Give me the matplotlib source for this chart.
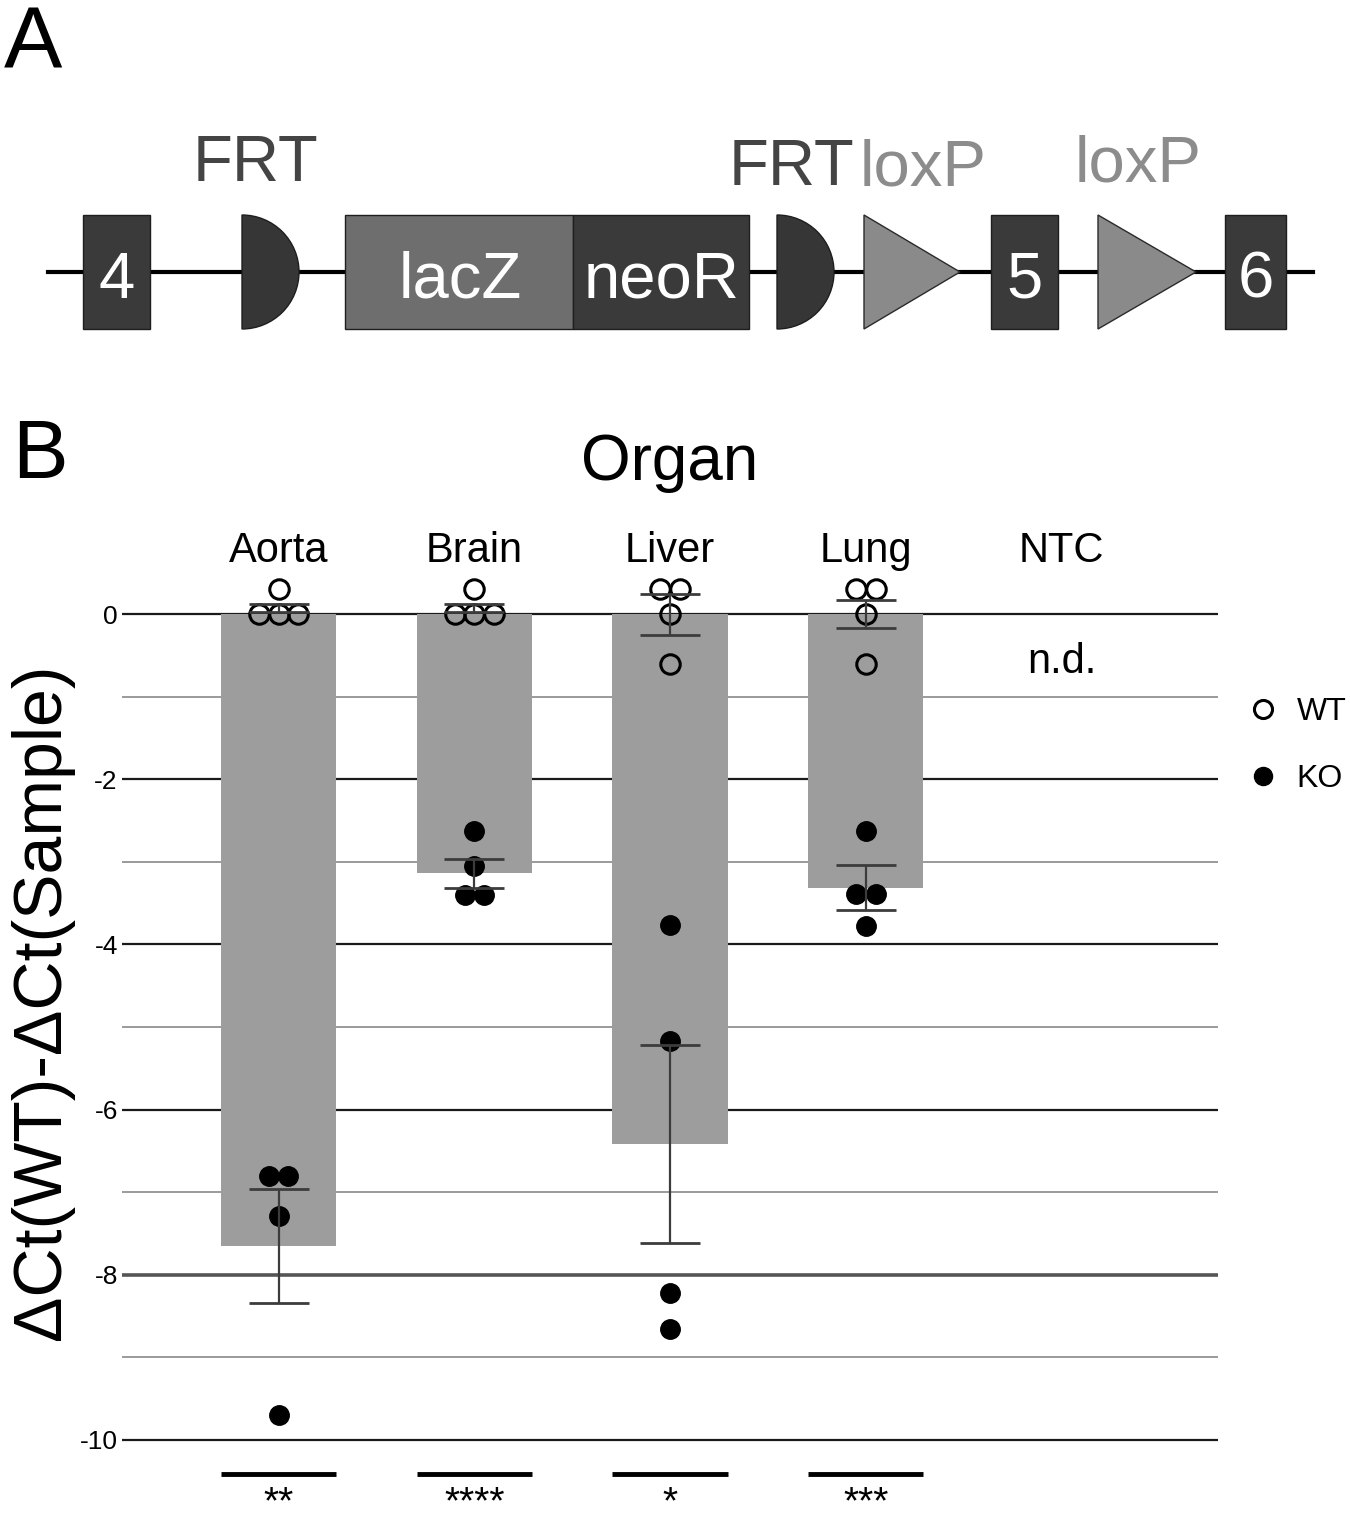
import matplotlib.pyplot as plt
import numpy as np
from matplotlib.lines import Line2D
from matplotlib.patches import Polygon, Rectangle, Wedge

plt.rcParams["font.family"] = ["Liberation Sans", "DejaVu Sans"]
plt.rcParams["axes.unicode_minus"] = False

# ---- data ----
organs = ["Aorta", "Brain", "Liver", "Lung", "NTC"]
wt_points = [
    [0.30, 0.0, 0.0, 0.0],
    [0.30, 0.0, 0.0, 0.0],
    [0.30, 0.30, 0.0, -0.60],
    [0.30, 0.30, 0.0, -0.60],
]
ko_points = [
    [-6.80, -6.80, -7.29, -9.70],
    [-2.63, -3.05, -3.40, -3.40],
    [-3.77, -5.17, -8.22, -8.66],
    [-2.63, -3.39, -3.39, -3.78],
]
ko_mean = [-7.65, -3.14, -6.42, -3.31]
ko_sem = [0.69, 0.17, 1.20, 0.27]
wt_mean = [0.075, 0.075, 0.0, 0.0]
wt_sem = [0.05, 0.05, 0.25, 0.17]
significance = ["**", "****", "*", "***"]
ntc_note = "n.d."
y_ticks = [0, -2, -4, -6, -8, -10]

W, H = 1350, 1523
fig = plt.figure(figsize=(W / 100, H / 100), dpi=100)


def px_box(left, top, right, bottom):
    return [left / W, 1 - bottom / H, (right - left) / W, (bottom - top) / H]


def swarm_x(center, values, step=0.1):
    # spread tied values side by side, like a dot plot
    values = np.asarray(values)
    xs = np.full(len(values), float(center))
    for v in np.unique(values):
        idx = np.flatnonzero(values == v)
        xs[idx] = center + (np.arange(len(idx)) - (len(idx) - 1) / 2) * step
    return xs


# ---- panel A: targeting construct ----
ax_a = fig.add_axes(px_box(0, 0, W, 360))
ax_a.set_xlim(0, W)
ax_a.set_ylim(360, 0)
ax_a.axis("off")

dark, mid, light = "#3a3a3a", "#6e6e6e", "#8a8a8a"
ax_a.plot([48, 1313], [272, 272], color="black", lw=3, zorder=1)
for x0, x1, lab in [(83, 150, "4"), (991, 1058, "5"), (1225, 1286, "6")]:
    ax_a.add_patch(Rectangle((x0, 215), x1 - x0, 114, fc=dark, ec="#1e1e1e", lw=1, zorder=2))
    ax_a.text((x0 + x1) / 2, 298, lab, color="white", fontsize=47, ha="center", va="baseline", zorder=3)
ax_a.add_patch(Rectangle((345, 215), 228, 114, fc=mid, ec="#1e1e1e", lw=1, zorder=2))
ax_a.add_patch(Rectangle((573, 215), 176, 114, fc=dark, ec="#1e1e1e", lw=1, zorder=2))
ax_a.text(460, 297, "lacZ", color="white", fontsize=47, ha="center", va="baseline", zorder=3)
ax_a.text(662, 297, "neoR", color="white", fontsize=47, ha="center", va="baseline", zorder=3)
for xc in (242, 777):
    ax_a.add_patch(Wedge((xc, 272), 57, -90, 90, fc="#363636", ec="#1e1e1e", lw=1, zorder=2))
for xl, xr in [(864, 960), (1098, 1196)]:
    ax_a.add_patch(Polygon([(xl, 215), (xl, 329), (xr, 272)], closed=True,
                           fc=light, ec="#2a2a2a", lw=1, zorder=2))
ax_a.text(255, 181, "FRT", color="#444444", fontsize=47, ha="center", va="baseline")
ax_a.text(791, 185, "FRT", color="#444444", fontsize=47, ha="center", va="baseline")
ax_a.text(923, 185, "loxP", color="#8c8c8c", fontsize=47, ha="center", va="baseline")
ax_a.text(1138, 181, "loxP", color="#8c8c8c", fontsize=47, ha="center", va="baseline")
ax_a.text(4, 68, "A", fontsize=63, ha="left", va="baseline")

# ---- panel B: qPCR ----
ax = fig.add_axes(px_box(122, 577, 1218, 1456.5))
ax.set_xlim(-0.8, 4.8)
ax.set_ylim(-10.2, 0.45)
for s in ax.spines.values():
    s.set_visible(False)

for y in range(-10, 1):
    if y == -8:
        ax.axhline(y, color="#555555", lw=2.6, zorder=1)
    elif y % 2 == 0:
        ax.axhline(y, color="#1a1a1a", lw=1.6, zorder=1)
    else:
        ax.axhline(y, color="#9a9a9a", lw=1.4, zorder=1)

x = np.arange(len(ko_mean))
ax.bar(x, ko_mean, width=0.59, color="#9d9d9d", zorder=2)

for i in x:
    ax.plot(swarm_x(i, wt_points[i]), wt_points[i], "o", ms=14, mfc="none", mec="black",
            mew=2.2, zorder=4, clip_on=False)
    ax.plot(swarm_x(i, ko_points[i]), ko_points[i], "o", ms=14, mfc="black", mec="black",
            mew=1, zorder=4, clip_on=False)

for means, sems in [(ko_mean, ko_sem), (wt_mean, wt_sem)]:
    eb = ax.errorbar(x, means, yerr=sems, fmt="none", ecolor="#3c3c3c", elinewidth=1.6,
                     capsize=21.6, capthick=2.0, zorder=5)
    for cap in eb[1]:
        cap.set_color("black")

ax.text(4, -0.58, ntc_note, fontsize=30, ha="center", va="center")

ax.hlines([-10.41] * len(significance), x - 0.295, x + 0.295, color="black", lw=3.5, clip_on=False)
for i, s in enumerate(significance):
    ax.text(i, -10.99, s, fontsize=28, ha="center", va="bottom", clip_on=False)

ax.set_yticks(y_ticks)
ax.tick_params(axis="y", length=0, pad=3, labelsize=19)
ax.set_xticks(np.arange(len(organs)))
ax.set_xticklabels(organs, fontsize=30)
ax.xaxis.tick_top()
ax.tick_params(axis="x", length=0, pad=4)

ax.text(2, 1.83, "Organ", fontsize=46, ha="center", va="center", clip_on=False)
fig.text(42 / W, 1 - 1002 / H, "ΔCt(WT)-ΔCt(Sample)", fontsize=49, rotation=90,
         ha="center", va="center")
fig.text(12 / W, 1 - 478 / H, "B", fontsize=60, ha="left", va="baseline")

handles = [
    Line2D([], [], marker="o", ls="none", ms=13, mfc="none", mec="black", mew=2.2, label="WT"),
    Line2D([], [], marker="o", ls="none", ms=13, mfc="black", mec="black", label="KO"),
]
ax.legend(handles=handles, loc="center left", bbox_to_anchor=(1247 / W, 1 - 745.5 / H),
          bbox_transform=fig.transFigure, frameon=False, fontsize=23, handlelength=1,
          handletextpad=0.55, labelspacing=1.15, borderpad=0, borderaxespad=0)

fig.savefig("out.png", dpi=100)
